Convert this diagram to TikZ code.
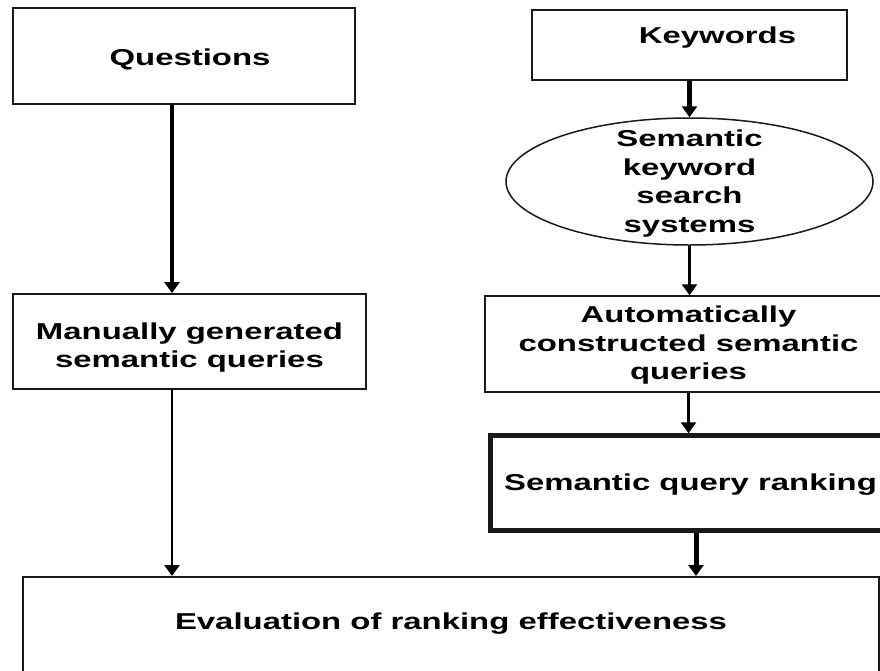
\documentclass[tikz,border=0pt]{standalone}
\usepackage{fontspec}
\setmainfont{Liberation Sans}[FakeStretch=1.43]
\usetikzlibrary{shapes.geometric,arrows.meta,calc}

\begin{document}
\begin{tikzpicture}[x=1pt,y=-1pt,
  font=\fontsize{23}{28.5}\selectfont\bfseries,
  box/.style={draw=black!90, line width=1.8pt, rectangle, inner sep=0pt, align=center},
  flow/.style={draw=black, -{Triangle[width=15pt,length=11pt]}, line width=2.5pt},
  heavyflow/.style={flow, line width=4.5pt}]
\useasboundingbox (0,0) rectangle (880,670);
\clip (0,0) rectangle (880,670);
\fill[white] (0,0) rectangle (880,670);

% left column
\node[box, minimum width=342pt, minimum height=96pt,
  label={[shift={(6,3)}]center:Questions}] (q) at (184,56) {};
\node[box, minimum width=353pt, minimum height=95pt,
  label={[align=center, shift={(0,6)}]center:{Manually generated\\semantic queries}}] (mq) at (189.5,341.5) {};

% right column
\node[box, minimum width=315pt, minimum height=70pt,
  label={[shift={(28,-7)}]center:Keywords}] (kw) at (689.5,45) {};
\node[ellipse, draw=black!90, line width=1.5pt, inner sep=0pt,
  minimum width=367pt, minimum height=127pt,
  label={[align=center, shift={(0,2)}]center:{Semantic\\keyword\\search\\systems}}] (sk) at (689.5,181.5) {};
\node[box, line width=1.5pt, minimum width=407pt, minimum height=96pt,
  label={[align=center, shift={(0,1.5)}]center:{Automatically\\constructed semantic\\queries}}] (aq) at (688.5,344) {};
\node[box, line width=5pt, minimum width=401pt, minimum height=94.5pt,
  label={[shift={(0,2)}]center:Semantic query ranking}] (sr) at (690.5,483) {};

% common result
\node[box, line width=1.8pt, anchor=north, minimum width=856pt, minimum height=120pt,
  label={[shift={(0,-13)}]center:Evaluation of ranking effectiveness}] (ev) at (451,576) {};

% connectors
\coordinate (qa) at ($(q.south)+(-12,0)$);
\coordinate (sa) at ($(sr.south)+(5.5,0)$);
\draw[heavyflow] (qa) -- (qa |- mq.north);
\draw[flow] (qa |- mq.south) -- (qa |- ev.north);
\draw[heavyflow] (kw.south) -- (sk.north);
\draw[flow] (sk.south) -- (sk.south |- aq.north);
\draw[flow] (aq.south) -- (aq.south |- sr.north);
\draw[heavyflow, line width=5pt] (sa) -- (sa |- ev.north);
\end{tikzpicture}
\end{document}
